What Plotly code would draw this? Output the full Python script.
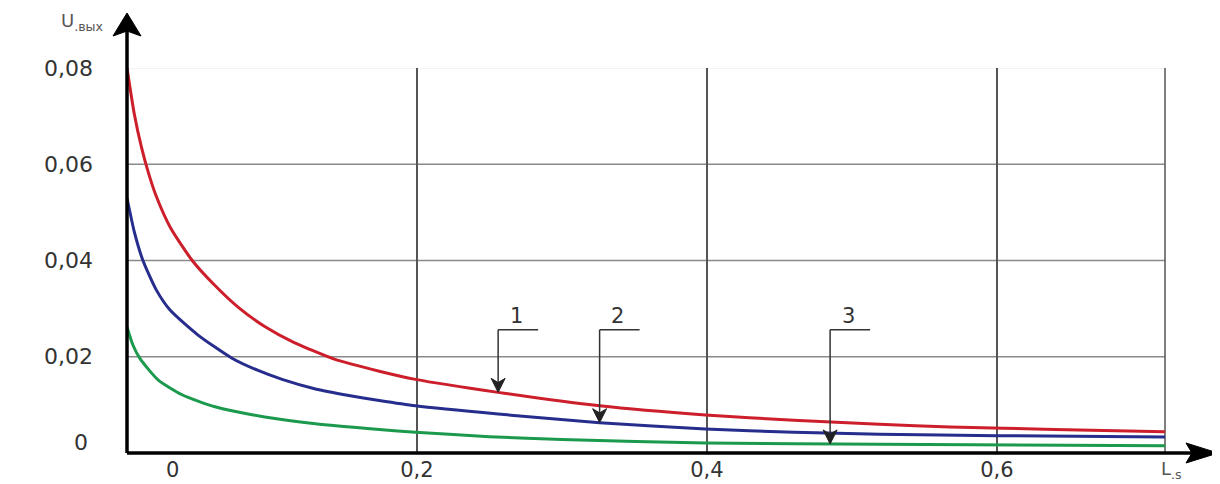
import numpy as np
import plotly.graph_objects as go

# ---- data ----
x_red = [0.0, 0.005, 0.01, 0.015, 0.02, 0.03, 0.045, 0.06, 0.077, 0.095, 0.115, 0.143, 0.174, 0.199,
         0.256, 0.326, 0.399, 0.46, 0.519, 0.568, 0.64, 0.716]
y_red = [0.080, 0.0705, 0.0635, 0.058, 0.0535, 0.0468, 0.040, 0.0350, 0.0302, 0.0263, 0.0230, 0.0195, 0.0170,
         0.0153, 0.0126, 0.0098, 0.0079, 0.0068, 0.0060, 0.0054, 0.0049, 0.0044]

x_blue = [0.0, 0.005, 0.011, 0.02, 0.0297, 0.049, 0.0724, 0.09, 0.107, 0.13, 0.152, 0.174, 0.199,
          0.256, 0.326, 0.399, 0.46, 0.519, 0.6, 0.716]
y_blue = [0.053, 0.046, 0.040, 0.034, 0.0297, 0.0245, 0.0197, 0.0172, 0.0153, 0.0133, 0.0120, 0.0109, 0.0098,
          0.0081, 0.0063, 0.0050, 0.0043, 0.0039, 0.0036, 0.0033]

x_green = [0.0, 0.004, 0.009, 0.0214, 0.038, 0.0607, 0.095, 0.13, 0.174, 0.199, 0.25, 0.30, 0.399, 0.519, 0.716]
y_green = [0.0262, 0.0225, 0.0196, 0.0152, 0.0121, 0.0096, 0.0075, 0.0061, 0.0049, 0.0043, 0.0034, 0.0028,
           0.0021, 0.0018, 0.0015]

x_ticks = [0.2, 0.4, 0.6]
x_ticktext = ["0,2", "0,4", "0,6"]
y_ticks = [0.02, 0.04, 0.06, 0.08]
y_ticktext = ["0,02", "0,04", "0,06", "0,08"]

curve_labels = ["1", "2", "3"]
label_x = [0.256, 0.326, 0.485]      # where each pointer touches its curve
leader_y = 0.0256                     # height of the pointer's horizontal bar

X_MAX = 0.716
Y_MAX = 0.08

# ---- layout geometry (pixels of the 1220x484 window; page body has an 8px margin) ----
OFF = 8
W, H = 1220 - OFF, 484 - OFF
ML, MT = 127 - OFF, 68 - OFF
MB = H - (453 - OFF)
MR = W - (1165 - OFF)
PW, PH = W - ML - MR, H - MT - MB


def px(xp):
    return (xp - OFF - ML) / PW


def py(yp):
    return (H - MB - (yp - OFF)) / PH


FONT = "DejaVu Sans"
colors = ["#cc1f2b", "#262d8c", "#1b9a4e"]
series = [(x_red, y_red), (x_blue, y_blue), (x_green, y_green)]

fig = go.Figure()
for (xs, ys), c, name in zip(series, colors, curve_labels):
    fig.add_trace(go.Scatter(x=xs, y=ys, mode="lines", name=name,
                             line=dict(color=c, width=3, shape="spline", smoothing=0.6),
                             showlegend=False, hoverinfo="skip"))

shapes = []
# horizontal gridlines
for v in y_ticks:
    shapes.append(dict(type="line", xref="paper", yref="y", x0=0, x1=1, y0=v, y1=v,
                       line=dict(color="#eeeeee" if v == Y_MAX else "#8a8a8a", width=1.5), layer="below"))
# right border
shapes.append(dict(type="line", xref="paper", yref="paper", x0=1, x1=1, y0=0, y1=1,
                   line=dict(color="#555555", width=1.5), layer="below"))
# axes lines
shapes.append(dict(type="line", xref="paper", yref="paper", x0=0, x1=0, y0=0, y1=py(28),
                   line=dict(color="black", width=3.5)))
shapes.append(dict(type="line", xref="paper", yref="paper", x0=0, x1=px(1195), y0=0, y1=0,
                   line=dict(color="black", width=3.5)))
# arrow heads
shapes.append(dict(type="path", xref="paper", yref="paper",
                   path=f"M {px(127)} {py(13)} L {px(113)} {py(36)} L {px(127)} {py(31)} L {px(141)} {py(36)} Z",
                   fillcolor="black", line=dict(color="black", width=1)))
shapes.append(dict(type="path", xref="paper", yref="paper",
                   path=f"M {px(1218)} {py(453)} L {px(1186)} {py(443)} L {px(1192)} {py(453)} L {px(1186)} {py(463)} Z",
                   fillcolor="black", line=dict(color="black", width=1)))

annotations = []
# curve pointers
bar_len = 40 / PW * X_MAX
head_h = 14 / PH * Y_MAX
head_w = 7 / PW * X_MAX
for (xs, ys), lab, lx in zip(series, curve_labels, label_x):
    tip_y = float(np.interp(lx, xs, ys))
    shapes.append(dict(type="line", xref="x", yref="y", x0=lx, x1=lx + bar_len, y0=leader_y, y1=leader_y,
                       line=dict(color="#333333", width=1.5)))
    shapes.append(dict(type="line", xref="x", yref="y", x0=lx, x1=lx, y0=leader_y, y1=tip_y + head_h * 0.6,
                       line=dict(color="#333333", width=1.5)))
    shapes.append(dict(type="path", xref="x", yref="y",
                       path=f"M {lx} {tip_y} L {lx - head_w} {tip_y + head_h} L {lx} {tip_y + head_h * 0.7} "
                            f"L {lx + head_w} {tip_y + head_h} Z",
                       fillcolor="#222222", line=dict(color="#222222", width=1)))
    annotations.append(dict(x=lx + bar_len * 0.45, y=leader_y, xref="x", yref="y", text=lab,
                            showarrow=False, yanchor="bottom", yshift=0,
                            font=dict(family=FONT, size=21, color="#333333")))

# zero labels
annotations.append(dict(x=px(90), y=0, xref="paper", yref="y", text="0", showarrow=False,
                        xanchor="right", yanchor="middle", yshift=11,
                        font=dict(family=FONT, size=22, color="#333333")))
annotations.append(dict(x=(172 - 127) / PW * X_MAX, y=0, xref="x", yref="paper", text="0", showarrow=False,
                        xanchor="center", yanchor="top", yshift=-3,
                        font=dict(family=FONT, size=21, color="#333333")))
# axis titles
annotations.append(dict(x=px(106), y=py(22), xref="paper", yref="paper", text="U<sub>.вых</sub>",
                        showarrow=False, xanchor="right", yanchor="middle",
                        font=dict(family=FONT, size=18, color="#555555")))
annotations.append(dict(x=px(1159), y=py(470), xref="paper", yref="paper", text="L<sub>.s</sub>",
                        showarrow=False, xanchor="left", yanchor="middle",
                        font=dict(family=FONT, size=18, color="#555555")))

fig.update_layout(
    width=W, height=H, autosize=False,
    margin=dict(l=ML, r=MR, t=MT, b=MB, autoexpand=False),
    plot_bgcolor="white", paper_bgcolor="white",
    shapes=shapes, annotations=annotations,
    xaxis=dict(range=[0, X_MAX], showline=False, zeroline=False, showgrid=True, automargin=False,
               gridcolor="#555555", gridwidth=1.5, tickvals=x_ticks, ticktext=x_ticktext,
               ticks="", ticklabelstandoff=2,
               tickfont=dict(family=FONT, size=21, color="#333333")),
    yaxis=dict(range=[0, Y_MAX], showline=False, zeroline=False, showgrid=False, automargin=False,
               tickvals=y_ticks, ticktext=y_ticktext, ticks="", ticklabelstandoff=33,
               tickfont=dict(family=FONT, size=22, color="#333333")),
)

fig.write_html("out.html")
